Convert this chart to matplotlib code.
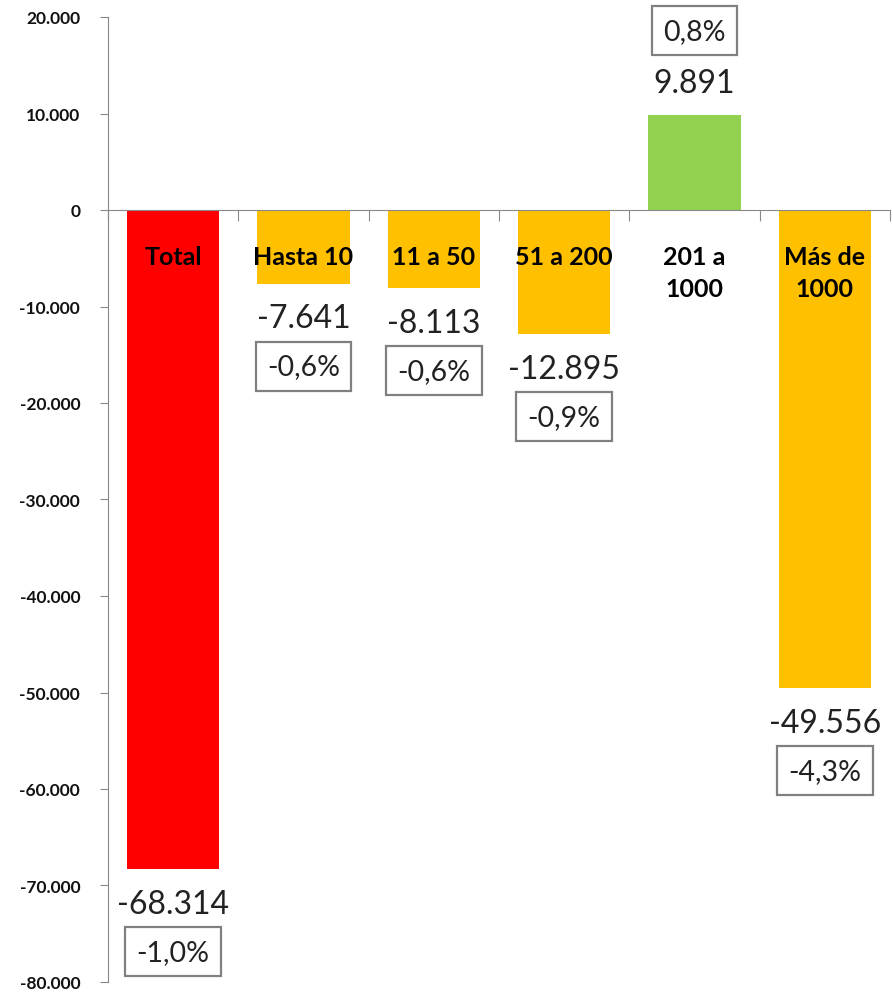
import numpy as np
import matplotlib
matplotlib.use("Agg")
from matplotlib import pyplot as plt
from matplotlib.ticker import FuncFormatter

# datos
categorias = ["Total", "Hasta 10", "11 a 50", "51 a 200", "201 a\n1000", "Más de\n1000"]
valores = [-68314, -7641, -8113, -12895, 9891, -49556]
porcentajes = ["-1,0%", "-0,6%", "-0,6%", "-0,9%", "0,8%", "-4,3%"]
colores = ["#FF0000", "#FFC000", "#FFC000", "#FFC000", "#92D050", "#FFC000"]

fig = plt.figure(figsize=(8.93, 9.95), dpi=100)
ax = fig.add_axes([108/893, 12/995, 782/893, 965/995])

x = np.arange(len(categorias))
ax.bar(x, valores, width=0.71, color=colores, zorder=2)

ax.set_xlim(-0.5, len(categorias) - 0.5)
ax.set_ylim(-80000, 20000)
ax.set_yticks(np.arange(-80000, 20001, 10000))
ax.yaxis.set_major_formatter(FuncFormatter(lambda v, p: f"{int(v):,}".replace(",", ".")))

ax.set_xticks(np.arange(-0.5, len(categorias)))
ax.set_xticklabels([])

for s in ["top", "right"]:
    ax.spines[s].set_visible(False)
ax.spines["bottom"].set_position(("data", 0))
ax.spines["left"].set_color("#888888")
ax.spines["bottom"].set_color("#888888")
ax.tick_params(axis="x", direction="out", length=8, color="#888888")
ax.tick_params(axis="y", direction="out", length=6, color="#888888", pad=14)
for lab in ax.get_yticklabels():
    lab.set_fontfamily("Lato")
    lab.set_fontweight("bold")
    lab.set_fontsize(12.5)
    lab.set_color("#111111")

# etiquetas de categoria
for i, cat in enumerate(categorias):
    ax.annotate(cat, (i, 0), xytext=(0, -25), textcoords="offset points",
                ha="center", va="top", fontsize=18, fontweight="bold",
                family="Lato", linespacing=1.5, color="black", zorder=3)

# valores y porcentajes
for i, (v, pc) in enumerate(zip(valores, porcentajes)):
    txt = f"{v:,}".replace(",", ".")
    if v < 0:
        ax.annotate(txt, (i, v), xytext=(0, -14), textcoords="offset points",
                    ha="center", va="top", fontsize=23, family="Lato", color="#222222")
        ax.annotate(pc, (i, v), xytext=(0, -50), textcoords="offset points",
                    ha="center", va="top", fontsize=20.5, family="Lato", color="#222222",
                    bbox=dict(boxstyle="square,pad=0.4", fc="white", ec="#808080", lw=1.6))
    else:
        ax.annotate(txt, (i, v), xytext=(0, 12), textcoords="offset points",
                    ha="center", va="bottom", fontsize=23, family="Lato", color="#222222")
        ax.annotate(pc, (i, v), xytext=(0, 51), textcoords="offset points",
                    ha="center", va="bottom", fontsize=20.5, family="Lato", color="#222222",
                    bbox=dict(boxstyle="square,pad=0.4", fc="white", ec="#808080", lw=1.6))

fig.savefig("out.png", dpi=100)
